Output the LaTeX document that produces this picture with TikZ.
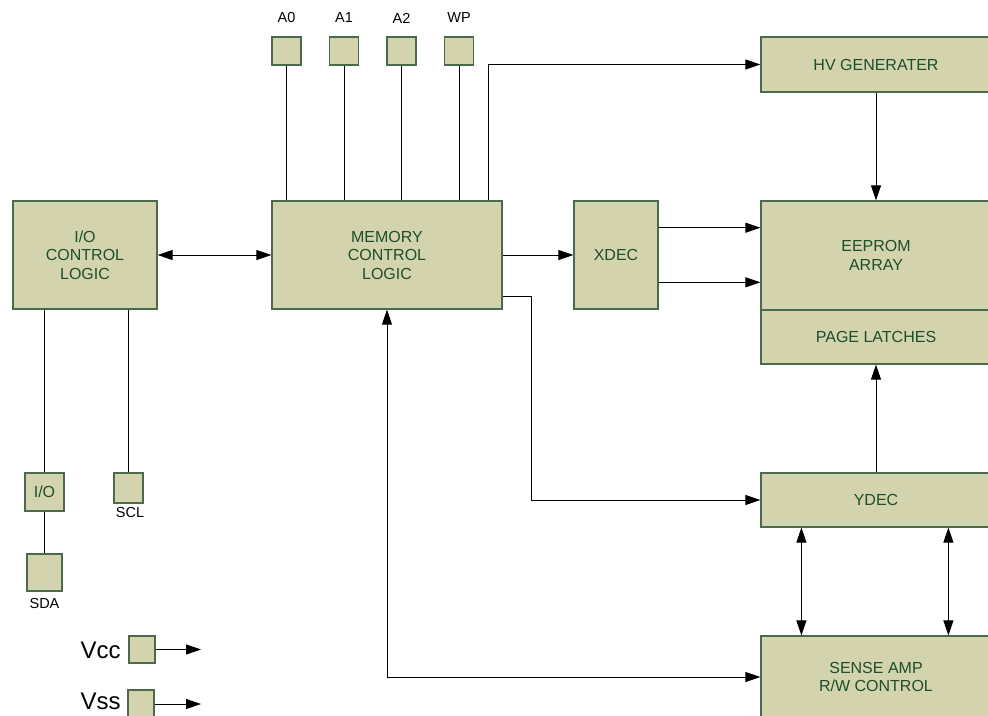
\documentclass[tikz,border=0pt]{standalone}
\usepackage{fontspec}
\setmainfont{Liberation Sans}
\usepackage{xcolor}
\usetikzlibrary{arrows.meta,positioning,calc}

\definecolor{blkfill}{RGB}{211,211,173}
\definecolor{blkline}{RGB}{75,105,75}
\definecolor{blktext}{RGB}{30,78,42}

\tikzset{
  blk/.style={draw=blkline, fill=blkfill, text=blktext, line width=1.2pt, align=center,
    inner sep=0pt, font=\fontsize{16}{18.5}\selectfont},
  pad/.style={blk, minimum width=29pt, minimum height=28pt},
  lbl/.style={font=\fontsize{14.5}{16}\selectfont, inner sep=0pt},
  supply/.style={font=\fontsize{24}{26}\selectfont, inner sep=0pt, anchor=east}
}

\begin{document}
\begin{tikzpicture}[x=1pt, y=-1pt, >={Triangle[length=15pt,width=10pt]}, line width=0.9pt]
\useasboundingbox (0,0) rectangle (988,715);
\clip (0,0) rectangle (988,715);
% main blocks
\node[blk, minimum width=144pt, minimum height=108pt] (iocl) at (85,255) {I/O\\CONTROL\\LOGIC};
\node[blk, minimum width=230pt, minimum height=108pt] (mcl) at (387,255) {MEMORY\\CONTROL\\LOGIC};
\node[blk, minimum width=84pt, minimum height=108pt] (xdec) at (616,255) {XDEC};
\node[blk, minimum width=230pt, minimum height=55pt] (hv) at (876,64.5) {HV GENERATER};
\node[blk, minimum width=230pt, minimum height=109pt] (eeprom) at (876,255.5) {EEPROM\\ARRAY};
\node[blk, minimum width=230pt, minimum height=54pt] (latch) at (876,337) {PAGE LATCHES};
\node[blk, minimum width=230pt, minimum height=54pt] (ydec) at (876,500) {YDEC};
\node[blk, minimum width=230pt, minimum height=82pt] (sense) at (876,677) {SENSE AMP\\R/W CONTROL};
% address pins
\node[pad] (a0) at (286.5,51) {};
\node[pad] (a1) at (344,51) {};
\node[pad] (a2) at (401.5,51) {};
\node[pad] (wp) at (459,51) {};
\node[lbl] at (286.5,18) {A0};
\node[lbl] at (344,18) {A1};
\node[lbl] at (401.5,18) {A2};
\node[lbl] at (459,18) {WP};
% serial pins
\node[blk, minimum width=39pt, minimum height=38pt] (io) at (44.5,492) {I/O};
\node[blk, minimum width=35pt, minimum height=37pt] (sda) at (44.5,572.5) {};
\node[blk, minimum width=29pt, minimum height=30pt] (scl) at (128.5,488) {};
\node[lbl] at (44.5,604) {SDA};
\node[lbl] at (130,513) {SCL};
% supply pins
\node[blk, minimum width=26pt, minimum height=27pt] (vcc) at (142,649.5) {};
\node[blk, minimum width=26pt, minimum height=30pt] (vss) at (141,705) {};
\node[supply] at (121,650) {Vcc};
\node[supply] at (121,701) {Vss};
\coordinate (vccend) at (201,649.5);
\coordinate (vssend) at (201,704);

% connections
\draw[<->] (iocl) -- (mcl);
\draw[->] (mcl) -- (xdec);
\coordinate (xup) at ($(xdec.north east)!0.25!(xdec.south east)$);
\coordinate (xdn) at ($(xdec.north east)!0.75!(xdec.south east)$);
\draw[->] (xup) -- (xup -| eeprom.west);
\draw[->] (xdn) -- (xdn -| eeprom.west);
\foreach \p in {a0,a1,a2,wp}
  \draw (\p.south) -- (\p.south |- mcl.north);
\coordinate (hvtap) at ($(mcl.north east)+(-14,0)$);
\draw[->] (hvtap) |- (hv.west);
\draw[->] (hv.south) -- (eeprom.north);
\coordinate (ytap) at ($(mcl.south east)+(0,-13)$);
\draw[->] (ytap) -- ++(29,0) |- (ydec.west);
\draw[->] (ydec.north) -- (latch.south);
\coordinate (ylft) at ($(ydec.south west)+(41,0)$);
\coordinate (yrgt) at ($(ydec.south west)+(188,0)$);
\draw[<->] (ylft) -- (ylft |- sense.north);
\draw[<->] (yrgt) -- (yrgt |- sense.north);
\draw[<->] (mcl.south) |- (sense.west);
\draw (iocl.south -| io) -- (io.north);
\draw (io.south) -- (sda.north);
\draw (iocl.south -| scl) -- (scl.north);
\draw[->] (vcc.east) -- (vccend);
\draw[->] (vss.east |- vssend) -- (vssend);
\end{tikzpicture}
\end{document}
